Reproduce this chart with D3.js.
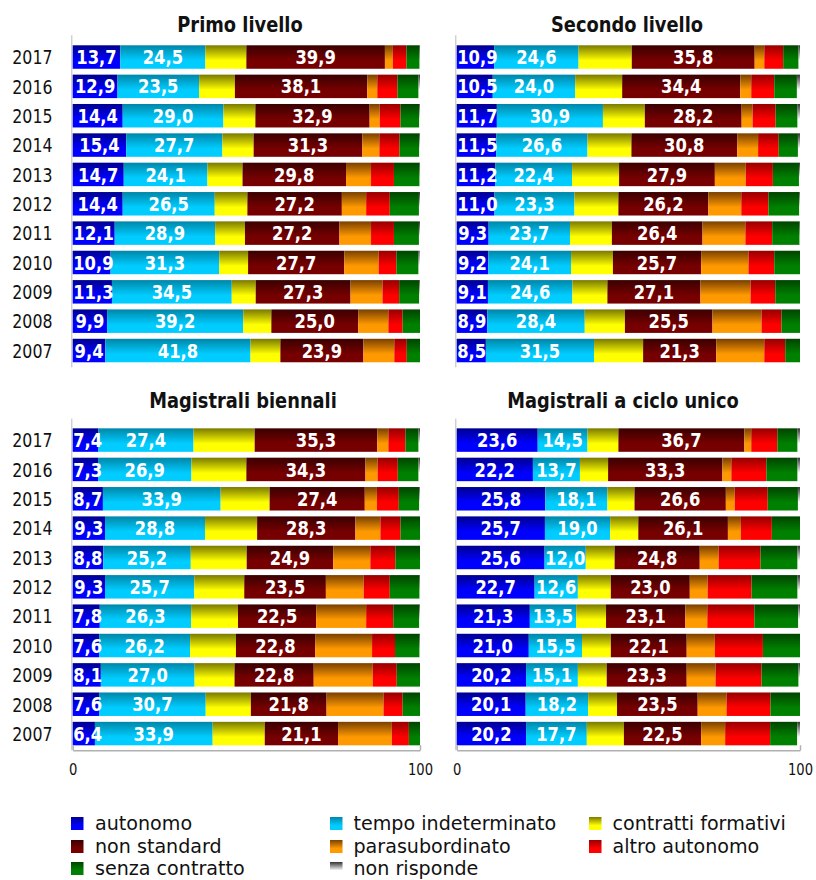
<!DOCTYPE html>
<html>
<head>
<meta charset="utf-8">
<script src="https://cdn.jsdelivr.net/npm/d3@7"></script>
<style>
  html, body { margin: 0; padding: 0; background: #fff; }
  svg { display: block; font-family: "DejaVu Sans", sans-serif; }
</style>
</head>
<body>
<svg id="chart" width="816" height="880"></svg>
<script>
// ---------------- DATA ----------------
const years = ["2017","2016","2015","2014","2013","2012","2011","2010","2009","2008","2007"];
const seriesNames = ["autonomo","tempo indeterminato","contratti formativi","non standard",
                     "parasubordinato","altro autonomo","senza contratto","non risponde"];
const labelledSeries = ["autonomo","tempo indeterminato","non standard"];
const panelTitles = ["Primo livello","Secondo livello","Magistrali biennali","Magistrali a ciclo unico"];
const axisTicks = [0, 100];

// rows = series (order of seriesNames), columns = years (2017 ... 2007)
const primoLivello = [
  [13.7,12.9,14.4,15.4,14.7,14.4,12.1,10.9,11.3, 9.9, 9.4],
  [24.5,23.5,29.0,27.7,24.1,26.5,28.9,31.3,34.5,39.2,41.8],
  [11.8,10.3, 9.2, 9.0,10.1, 9.4, 8.6, 8.3, 6.9, 8.1, 8.6],
  [39.9,38.1,32.9,31.3,29.8,27.2,27.2,27.7,27.3,25.0,23.9],
  [ 2.3, 2.9, 2.9, 4.9, 7.2, 7.0, 9.1, 9.9, 9.2, 8.7, 8.9],
  [ 3.9, 5.8, 6.0, 5.8, 6.6, 6.8, 6.6, 5.1, 4.8, 4.1, 3.6],
  [ 3.8, 6.1, 5.4, 5.7, 7.4, 8.4, 7.2, 6.4, 5.8, 5.0, 3.8],
  [ 0.1, 0.4, 0.2, 0.2, 0.1, 0.3, 0.3, 0.3, 0.2, 0.0, 0.0]
];
const secondoLivello = [
  [10.9,10.5,11.7,11.5,11.2,11.0, 9.3, 9.2, 9.1, 8.9, 8.5],
  [24.6,24.0,30.9,26.6,22.4,23.3,23.7,24.1,24.6,28.4,31.5],
  [15.5,13.7,12.2,12.8,13.7,12.8,12.2,12.2,10.2,11.7,14.3],
  [35.8,34.4,28.2,30.8,27.9,26.2,26.4,25.7,27.1,25.5,21.3],
  [ 2.8, 3.2, 3.2, 6.1, 9.0, 9.6,12.5,13.8,14.6,14.3,14.0],
  [ 5.5, 6.7, 6.7, 6.0, 7.9, 7.9, 7.8, 7.5, 7.2, 5.8, 6.1],
  [ 4.5, 6.6, 6.4, 5.6, 7.6, 9.0, 8.0, 7.5, 7.2, 5.4, 4.3],
  [ 0.4, 0.9, 0.7, 0.6, 0.3, 0.2, 0.1, 0.0, 0.0, 0.0, 0.0]
];
const magistraliBiennali = [
  [ 7.4, 7.3, 8.7, 9.3, 8.8, 9.3, 7.8, 7.6, 8.1, 7.6, 6.4],
  [27.4,26.9,33.9,28.8,25.2,25.7,26.3,26.2,27.0,30.7,33.9],
  [17.6,15.8,14.1,15.0,16.1,14.4,13.5,13.2,11.5,13.0,15.0],
  [35.3,34.3,27.4,28.3,24.9,23.5,22.5,22.8,22.8,21.8,21.1],
  [ 3.2, 3.5, 3.5, 7.2,10.7,10.9,14.4,16.4,17.0,16.4,15.5],
  [ 4.9, 5.8, 6.3, 5.8, 7.2, 7.5, 7.8, 6.6, 6.9, 5.5, 4.9],
  [ 3.8, 6.0, 5.9, 5.6, 7.1, 8.6, 7.5, 7.1, 6.7, 5.0, 3.2],
  [ 0.4, 0.4, 0.2, 0.0, 0.0, 0.1, 0.2, 0.1, 0.0, 0.0, 0.0]
];
const magistraliCicloUnico = [
  [23.6,22.2,25.8,25.7,25.6,22.7,21.3,21.0,20.2,20.1,20.2],
  [14.5,13.7,18.1,19.0,12.0,12.6,13.5,15.5,15.1,18.2,17.7],
  [ 9.0, 8.2, 7.9, 8.2, 8.4, 9.6, 8.7, 8.4, 8.4, 8.4,10.8],
  [36.7,33.3,26.6,26.1,24.8,23.0,23.1,22.1,23.3,23.5,22.5],
  [ 2.0, 2.6, 2.6, 3.8, 5.5, 5.2, 6.4, 8.2, 8.4, 8.4, 7.0],
  [ 7.6,10.2, 9.6, 9.0,12.2,12.8,13.7,14.0,13.4,12.8,13.1],
  [ 5.9, 9.1, 8.8, 8.2,10.8,13.4,12.8,10.8,10.8, 8.6, 7.9],
  [ 0.7, 0.7, 0.6, 0.0, 0.7, 0.7, 0.5, 0.0, 0.4, 0.0, 0.8]
];

// gradient colours (top, bottom) per series
const colorTop    = ["#000090","#0086a8","#7a7a00","#3a0000","#7a4000","#960000","#004400","#333333"];
const colorBottom = ["#0000ff","#00ccff","#ffff00","#760000","#ff9900","#ff0000","#008000","#ffffff"];

// ---------------- DRAW ----------------
const svg = d3.select("#chart");
const defs = svg.append("defs");
seriesNames.forEach((s, i) => {
  const g = defs.append("linearGradient").attr("id", "grad" + i)
    .attr("x1", 0).attr("y1", 0).attr("x2", 0).attr("y2", 1);
  g.append("stop").attr("offset", "0%").attr("stop-color", colorTop[i]);
  g.append("stop").attr("offset", "65%").attr("stop-color", colorBottom[i]);
  g.append("stop").attr("offset", "100%").attr("stop-color", colorBottom[i]);
});

const fmt = v => d3.format(".1f")(v).replace(".", ",");
const place = (sel, x, y, sx) => sel.attr("transform", `translate(${x},${y}) scale(${sx},1)`);

const panels = [
  { title: panelTitles[0], data: primoLivello,        x0: 72.7,  x1: 420, y0: 42.35, titleX: 240, titleY: 32,  years: true,  axis: false },
  { title: panelTitles[1], data: secondoLivello,      x0: 456.7, x1: 800, y0: 42.35, titleX: 627, titleY: 32,  years: false, axis: false },
  { title: panelTitles[2], data: magistraliBiennali,  x0: 72.7,  x1: 420, y0: 425.4, titleX: 243, titleY: 408, years: true,  axis: true },
  { title: panelTitles[3], data: magistraliCicloUnico,x0: 456.7, x1: 800, y0: 425.4, titleX: 623, titleY: 408, years: false, axis: true }
];

const stepY = 29.35;
const valScale = 0.84;

panels.forEach(p => {
  const x = d3.scaleLinear().domain([0, 100]).range([p.x0, p.x1]);
  const yRange = [p.y0, p.y0 + stepY * years.length];
  const y = d3.scaleBand().domain(years).range(yRange).paddingInner(0.2).paddingOuter(0.1);

  const g = svg.append("g");

  // vertical axis line (behind bars)
  g.append("line")
    .attr("x1", p.x0 - 1).attr("x2", p.x0 - 1)
    .attr("y1", yRange[0] - 7).attr("y2", yRange[1] + 2)
    .attr("stroke", "#d0d0d0").attr("stroke-width", 1.5);

  // title
  place(g.append("text").attr("text-anchor", "middle")
    .attr("font-weight", "bold").attr("font-size", 21).attr("fill", "#111")
    .text(p.title), p.titleX, p.titleY, 0.85);

  // rows -> stacked segments
  const rows = years.map((yr, j) => {
    let acc = 0;
    return seriesNames.map((s, i) => {
      const v = p.data[i][j];
      const seg = { year: yr, series: s, idx: i, v: v, a: acc, b: acc + v };
      acc += v;
      return seg;
    });
  });

  const segs = rows.flat();
  g.selectAll("rect.seg").data(segs).join("rect")
    .attr("class", "seg")
    .attr("x", d => x(d.a))
    .attr("width", d => Math.max(0, x(d.b) - x(d.a)))
    .attr("y", d => y(d.year))
    .attr("height", y.bandwidth())
    .attr("fill", d => `url(#grad${d.idx})`);

  // value labels (kept inside the plot on the left)
  g.selectAll("text.val").data(segs.filter(d => labelledSeries.includes(d.series))).join("text")
    .attr("class", "val")
    .attr("text-anchor", "middle")
    .attr("font-weight", "bold").attr("font-size", 19.5).attr("fill", "#fff")
    .text(d => fmt(d.v))
    .each(function(d) {
      const half = this.getComputedTextLength() * valScale / 2;
      const cx = Math.max((x(d.a) + x(d.b)) / 2, p.x0 + half + 0.5);
      place(d3.select(this), cx, y(d.year) + y.bandwidth() / 2 + 7.1, valScale);
    });

  // year labels
  if (p.years) {
    g.selectAll("text.yr").data(years).join("text")
      .attr("class", "yr").attr("text-anchor", "end")
      .attr("font-size", 20).attr("fill", "#111")
      .text(d => d)
      .each(function(d) {
        place(d3.select(this), 52.5, y(d) + y.bandwidth() / 2 + 7.3, 0.79);
      });
  }

  // bottom axis
  if (p.axis) {
    const ax = g.append("g")
      .attr("transform", `translate(0,${yRange[1] + 2})`)
      .call(d3.axisBottom(x).tickValues(axisTicks).tickSizeInner(-5).tickSizeOuter(0).tickPadding(13));
    ax.select(".domain").attr("stroke", "#b0b0b0").attr("stroke-width", 1.5);
    ax.selectAll(".tick line").attr("stroke", "#b0b0b0").attr("stroke-width", 1.5);
    ax.selectAll(".tick text")
      .attr("font-size", 16).attr("font-family", "DejaVu Sans, sans-serif").attr("fill", "#111")
      .attr("transform", "scale(0.82,1)");
  }
});

// ---------------- LEGEND ----------------
const legendSquareX = [71, 330, 589];
const legendTextX = [95, 353.5, 612.5];
const legendBaseY = [830, 853, 875];
const lg = svg.append("g");
seriesNames.forEach((s, i) => {
  const c = i % 3, r = Math.floor(i / 3);
  lg.append("rect").attr("x", legendSquareX[c]).attr("y", legendBaseY[r] - 13)
    .attr("width", 12.5).attr("height", 13)
    .attr("fill", `url(#grad${i})`);
  place(lg.append("text").attr("font-size", 19.5).attr("fill", "#111").text(s),
    legendTextX[c], legendBaseY[r], 0.98);
});
</script>
</body>
</html>
